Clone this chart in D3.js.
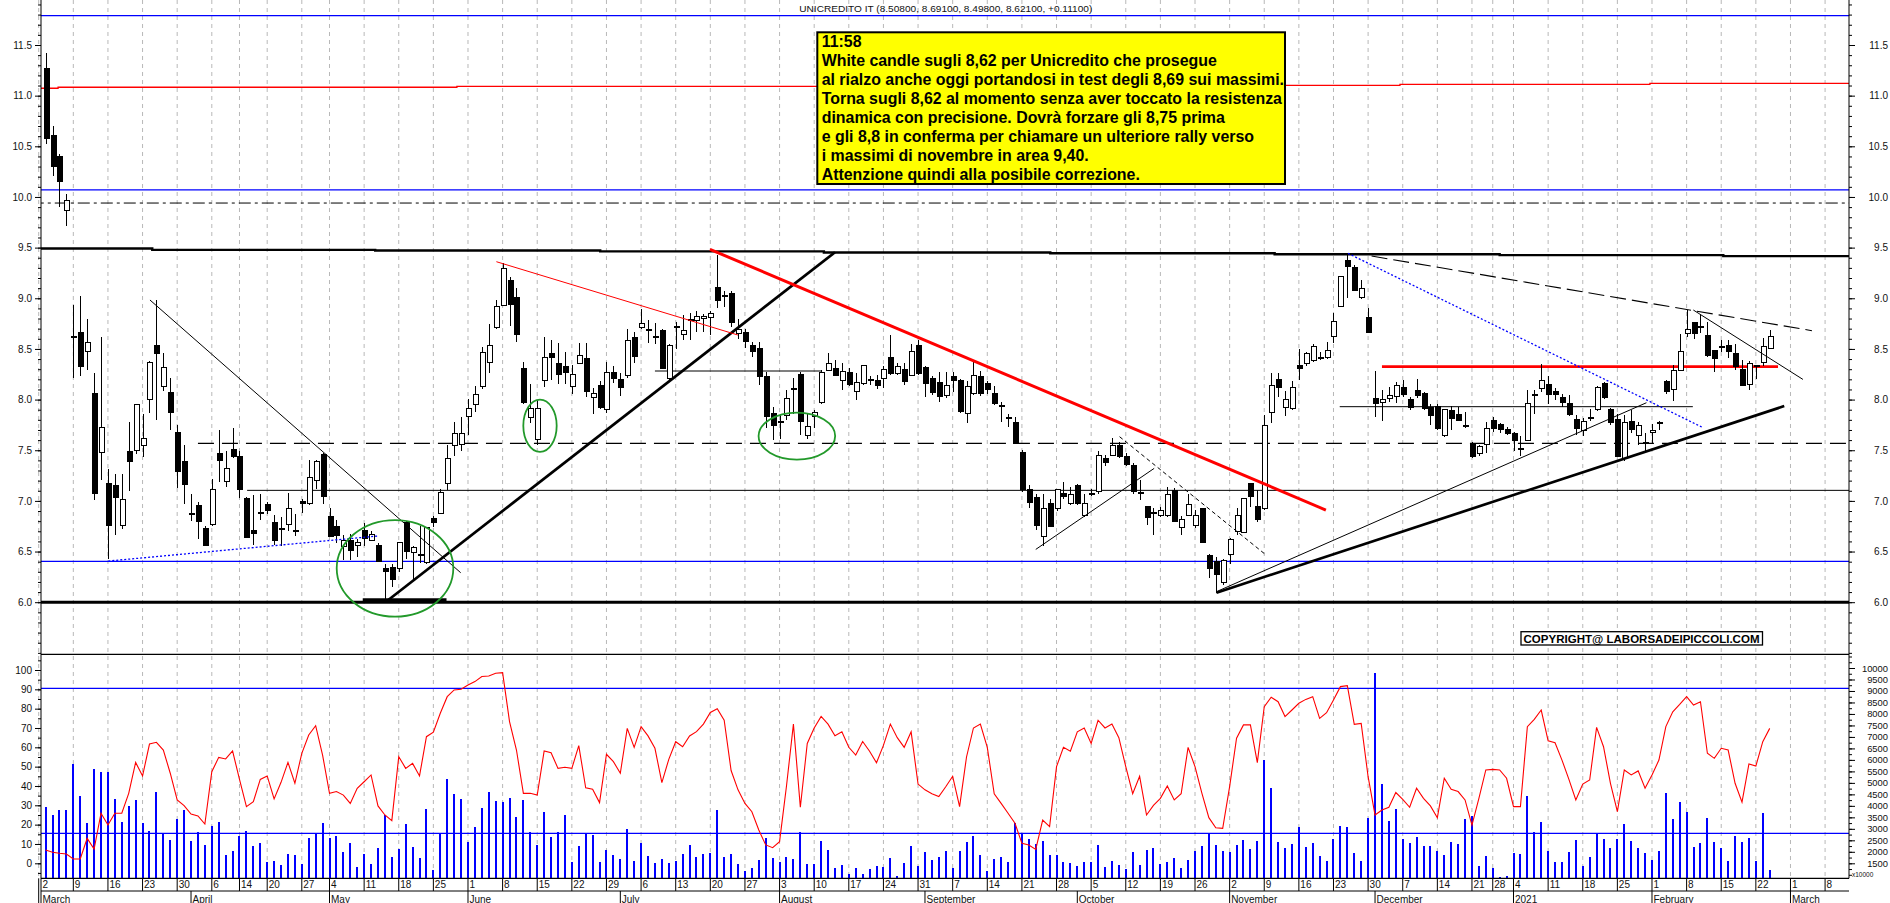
<!DOCTYPE html>
<html>
<head>
<meta charset="utf-8">
<script src="https://cdn.jsdelivr.net/npm/d3@7"></script>
<style>
  body { margin: 0; background: #fff; }
  svg { display: block; }
</style>
</head>
<body>
<svg id="chart"></svg>
<script>
// trading day index 0 = 2 March 2020, last bar = 24 Feb 2021
const firstDay = 1;

// [open, high, low, close]
const ohlc = [
  [11.27,11.42,10.52,10.58],[10.61,10.70,10.21,10.30],[10.40,10.42,9.90,10.15],[9.87,10.03,9.71,9.97],
  [8.62,8.93,8.21,8.61],[8.66,9.02,8.23,8.33],[8.47,8.80,8.29,8.56],[8.06,8.26,7.01,7.07],[7.48,8.62,7.21,7.72],
  [7.17,7.31,6.43,6.76],[7.15,7.27,6.66,7.03],[6.76,7.27,6.72,7.01],[7.49,7.78,7.10,7.39],[7.50,7.96,7.46,7.95],
  [7.55,7.86,7.43,7.62],[8.00,8.38,7.87,8.37],[8.53,8.98,7.80,8.45],[8.13,8.46,8.08,8.32],[8.07,8.21,7.70,7.87],
  [7.68,7.75,7.13,7.29],[7.39,7.55,6.97,7.16],[6.88,7.07,6.80,6.87],[6.95,6.99,6.62,6.80],[6.73,6.75,6.55,6.56],
  [6.77,7.22,6.75,7.11],[7.47,7.70,7.19,7.40],[7.19,7.49,7.14,7.32],[7.51,7.72,7.42,7.44],
  [7.44,7.49,7.03,7.11],[7.02,7.04,6.63,6.64],[6.71,7.06,6.56,6.68],[6.88,7.07,6.81,6.89],
  [6.96,6.99,6.87,6.91],[6.79,6.86,6.56,6.61],[6.73,6.84,6.55,6.72],[6.77,7.08,6.70,6.92],[6.71,6.87,6.65,6.70],
  [6.99,7.02,6.88,6.97],[6.97,7.40,6.96,7.23],[7.20,7.40,7.12,7.39],[7.46,7.47,6.97,7.04],
  [6.85,6.93,6.64,6.65],[6.75,6.81,6.58,6.66],[6.55,6.66,6.42,6.61],[6.61,6.67,6.42,6.51],[6.56,6.62,6.45,6.59],
  [6.71,6.78,6.55,6.63],[6.61,6.70,6.60,6.67],[6.56,6.58,6.40,6.40],[6.33,6.38,5.99,6.30],[6.34,6.38,6.15,6.22],
  [6.33,6.59,6.30,6.59],[6.79,6.80,6.43,6.50],[6.49,6.55,6.22,6.54],[6.47,6.75,6.39,6.46],[6.39,6.74,6.38,6.74],
  [6.83,6.85,6.74,6.79],[6.88,7.12,6.87,7.08],[7.17,7.55,7.11,7.42],[7.55,7.78,7.44,7.67],[7.56,7.83,7.49,7.67],
  [7.83,8.01,7.65,7.91],[7.95,8.13,7.88,8.05],[8.13,8.52,8.10,8.46],[8.37,8.75,8.26,8.53],[8.71,8.98,8.70,8.92],
  [8.93,9.35,8.92,9.29],[9.18,9.21,8.73,8.94],[9.01,9.10,8.57,8.64],[8.31,8.37,7.96,7.97],[7.82,8.15,7.77,7.91],
  [7.61,8.00,7.55,7.91],[8.19,8.62,8.12,8.42],[8.45,8.59,8.19,8.42],[8.36,8.56,8.15,8.25],[8.33,8.47,8.15,8.27],
  [8.13,8.34,8.06,8.25],[8.36,8.56,8.35,8.44],[8.41,8.56,8.03,8.08],[8.02,8.11,7.86,8.06],[8.14,8.18,7.91,7.92],
  [7.90,8.37,7.87,8.27],[8.27,8.33,8.16,8.21],[8.20,8.26,8.04,8.12],[8.24,8.70,8.21,8.58],[8.61,8.67,8.36,8.43],
  [8.71,8.89,8.70,8.75],[8.68,8.79,8.56,8.69],[8.62,8.76,8.55,8.61],[8.68,8.70,8.30,8.31],[8.21,8.55,8.19,8.53],
  [8.72,8.77,8.50,8.72],[8.64,8.83,8.59,8.68],[8.79,8.85,8.59,8.78],[8.78,8.87,8.67,8.82],[8.80,8.84,8.67,8.82],
  [8.81,8.87,8.64,8.85],[9.11,9.43,8.90,8.98],[9.02,9.07,8.91,9.03],[9.05,9.07,8.72,8.76],[8.65,8.80,8.60,8.69],
  [8.66,8.70,8.51,8.57],[8.53,8.57,8.42,8.47],[8.50,8.57,8.14,8.23],[8.23,8.27,7.72,7.83],[7.86,7.93,7.60,7.74],
  [7.77,7.86,7.61,7.78],[7.84,8.09,7.80,8.01],[8.10,8.21,7.86,8.11],[8.25,8.27,7.65,7.78],[7.65,7.86,7.61,7.73],
  [7.83,7.90,7.72,7.87],[7.97,8.29,7.96,8.27],[8.29,8.46,8.28,8.36],[8.31,8.39,8.23,8.24],[8.19,8.36,8.09,8.28],
  [8.27,8.31,8.13,8.15],[8.08,8.26,8.00,8.17],[8.16,8.34,8.14,8.34],[8.20,8.23,8.14,8.20],[8.19,8.24,8.10,8.14],
  [8.21,8.33,8.11,8.30],[8.42,8.64,8.24,8.26],[8.26,8.36,8.24,8.33],[8.30,8.36,8.14,8.18],[8.24,8.55,8.23,8.47],
  [8.53,8.59,8.24,8.26],[8.32,8.33,8.03,8.16],[8.21,8.23,8.05,8.07],[8.17,8.27,7.98,8.03],[8.04,8.27,8.02,8.14],
  [8.23,8.27,8.07,8.19],[8.19,8.20,7.87,7.88],[7.86,8.18,7.77,8.13],[8.06,8.37,8.05,8.24],[8.23,8.28,8.04,8.06],
  [8.16,8.18,8.06,8.10],[8.06,8.13,7.95,7.96],[7.94,7.98,7.78,7.94],[7.82,7.86,7.73,7.81],[7.77,7.83,7.56,7.57],
  [7.48,7.50,7.09,7.11],[7.11,7.16,6.93,6.98],[7.03,7.07,6.71,6.76],[6.65,7.07,6.55,6.92],[6.97,7.02,6.74,6.75],
  [6.92,7.12,6.90,7.11],[7.07,7.19,7.02,7.04],[6.97,7.14,6.96,7.06],[7.15,7.17,6.96,6.97],[6.86,7.07,6.84,6.97],
  [7.07,7.12,7.05,7.07],[7.09,7.49,7.07,7.45],[7.42,7.45,7.34,7.38],[7.45,7.62,7.44,7.55],[7.55,7.58,7.42,7.44],
  [7.44,7.47,7.34,7.36],[7.35,7.37,7.07,7.09],[7.08,7.21,7.01,7.08],[6.94,6.95,6.76,6.84],[6.89,6.93,6.66,6.89],
  [6.86,6.94,6.84,6.91],[6.86,7.14,6.84,7.06],[7.10,7.13,6.79,6.80],[6.74,6.85,6.66,6.82],[6.86,7.07,6.85,6.96],
  [6.76,6.91,6.73,6.86],[6.92,6.93,6.58,6.59],[6.46,6.48,6.24,6.33],[6.40,6.45,6.09,6.27],[6.19,6.43,6.17,6.41],
  [6.47,6.63,6.38,6.62],[6.70,6.93,6.66,6.86],[6.69,7.02,6.68,7.02],[7.17,7.18,6.94,7.04],[6.94,7.11,6.79,6.82],
  [6.92,7.85,6.91,7.74],[7.87,8.26,7.77,8.14],[8.20,8.26,8.03,8.12],[7.92,8.08,7.84,8.00],[7.91,8.18,7.90,8.12],
  [8.34,8.50,8.19,8.31],[8.36,8.47,8.33,8.45],[8.39,8.55,8.37,8.52],[8.42,8.47,8.39,8.42],[8.42,8.57,8.40,8.48],
  [8.62,8.85,8.56,8.77],[8.92,9.22,8.91,9.21],[9.37,9.44,9.00,9.31],[9.30,9.33,9.07,9.08],[9.01,9.18,8.99,9.10],
  [8.81,8.90,8.66,8.66],[8.01,8.28,7.83,7.96],[7.97,8.09,7.79,8.00],[8.01,8.12,7.98,8.04],[8.03,8.17,7.97,8.14],
  [8.12,8.19,8.03,8.05],[8.00,8.03,7.90,7.92],[8.09,8.20,8.02,8.04],[8.06,8.07,7.90,7.91],[7.92,7.96,7.75,7.84],
  [7.93,7.96,7.70,7.71],[7.65,7.91,7.63,7.90],[7.89,7.94,7.70,7.81],[7.85,7.93,7.79,7.79],[7.74,7.88,7.72,7.74],
  [7.57,7.58,7.42,7.44],[7.47,7.55,7.44,7.54],[7.56,7.78,7.47,7.71],
  [7.79,7.83,7.68,7.71],[7.75,7.77,7.67,7.70],[7.70,7.73,7.65,7.67],
  [7.67,7.68,7.49,7.60],[7.52,7.64,7.44,7.52],[7.60,8.09,7.59,7.96],[8.04,8.09,7.86,8.05],[8.11,8.35,8.07,8.19],
  [8.15,8.23,7.96,8.05],[8.08,8.11,8.00,8.05],[8.02,8.06,7.93,7.97],[7.96,8.05,7.84,7.85],[7.80,7.85,7.65,7.71],
  [7.69,7.82,7.64,7.78],[7.81,7.91,7.79,7.82],[7.90,8.13,7.89,8.12],[8.16,8.17,8.01,8.02],[7.90,7.92,7.75,7.77],
  [7.80,7.86,7.43,7.44],[7.42,7.85,7.39,7.77],[7.78,7.90,7.67,7.70],[7.65,7.78,7.55,7.74],[7.57,7.67,7.49,7.58],
  [7.68,7.76,7.57,7.69],[7.76,7.79,7.70,7.77],[8.18,8.19,8.06,8.08],[8.10,8.34,7.99,8.29],[8.29,8.65,8.28,8.47],
  [8.65,8.88,8.62,8.69],[8.76,8.77,8.60,8.65],[8.72,8.83,8.66,8.72],[8.63,8.77,8.42,8.44],[8.48,8.49,8.27,8.41],
  [8.52,8.59,8.47,8.51],[8.53,8.59,8.41,8.47],[8.45,8.55,8.29,8.33],[8.30,8.39,8.13,8.14],[8.15,8.38,8.09,8.36],
  [8.33,8.34,8.20,8.34],[8.37,8.61,8.33,8.52],[8.508,8.691,8.498,8.621]
];

// volume, units of 10000 shares
const volume = [
  3936,3603,3820,3820,5807,4429,3240,5589,5459,5473,4284,3313,3994,4255,3240,2907,4589,2762,2515,3429,
  3820,2486,2849,2298,3124,3313,1863,2037,2704,2907,2269,2370,1573,1602,1428,1892,1863,1471,2617,2762,
  3269,2588,2689,1979,2370,1326,1906,1457,2182,3603,1761,2109,3211,2196,1718,3849,1210,2805,5169,4516,
  4299,2443,3095,3893,4618,4212,4183,4328,3530,4255,2849,2298,3719,2631,2849,3603,1573,2269,2805,2733,
  1573,2080,1863,1674,2993,1616,2370,1819,1529,1688,1529,1616,1906,2297,1761,1906,1964,3820,1761,1906,
  1456,1166,1282,1645,2587,1746,1558,1790,1674,2848,1456,1471,2471,2080,1282,1427,1036,1282,1021,1239,
  1384,1355,1717,949,1500,2254,1384,1993,1645,1790,2051,1282,2036,2428,2689,1862,1166,1688,1790,1558,
  3240,2805,2544,2341,2471,1862,1862,1558,1500,1384,1543,1543,2297,1326,1601,1427,1253,1978,1427,2080,
  2152,1471,1572,1717,1311,1645,2036,2240,2805,2290,2045,2008,2298,2500,2124,2486,5995,4763,2414,2182,
  2320,3066,2196,2370,1819,1602,2544,3138,3095,1935,1602,3457,9765,4937,3342,3864,2544,2370,2631,2254,
  2269,2051,1863,2414,2341,3414,3559,1384,1819,1312,891,949,1964,1906,4429,2849,3284,2037,1573,1573,
  1979,2515,1384,1761,2805,2544,2153,2544,3197,2472,2153,1964,1645,2037,4545,3429,4183,3719,2225,2370,
  3457,2414,2153,1616,2689,2443,2588,1602,3675,1210
];

// oscillator 0-100
const osc = [
  6.9,5.7,5.2,4.8,2.2,2.2,12.9,7.4,25.9,19.8,25.9,25.9,36.2,52.2,45.2,61.7,62.6,58.6,46.6,32.8,
  29.8,25.5,24.5,20.3,47.4,54.8,54.0,58.1,43.4,29.3,31.9,43.4,45.2,33.3,41.9,52.2,41.4,56.9,66.4,71.2,
  56.0,36.2,37.1,35.3,31.0,38.8,42.2,45.7,29.7,25.0,22.1,55.2,49.1,51.7,45.2,65.5,67.8,77.6,86.2,89.7,
  90.0,92.2,94.0,96.6,96.9,98.3,98.6,73.3,58.6,36.2,36.2,35.3,58.1,57.2,49.1,49.7,49.1,60.9,39.1,38.3,
  31.4,56.4,52.6,46.6,69.8,60.0,70.7,65.9,59.5,41.7,53.8,62.9,60.3,65.9,68.1,72,78,80,74,48,
  38,31,26.7,17.2,9.5,8.1,11.2,40,72,29,62,70,76,72,66,68,60,56,63,58,
  52,61,72,65,60,68,41,38,36,34.5,39.6,45,29.3,55,70,72,60,36,31,25.9,
  20.7,10.3,9.5,7.2,22.4,19,50,60,58,68,70,62,74,70,72,65,50,36,45,25,
  30,33.6,40,32.8,36,60,50,36.2,23.6,18.4,18.1,39.7,64.7,71.6,71.6,52.1,81,85.9,83.6,75.9,
  79.3,82.8,84.8,86.2,75,77.9,84.5,91.4,91.9,71.9,72.4,44.8,25,27.6,29,36.6,33.1,29,38.8,33.6,
  29.7,23.6,44,38.3,37.1,32.8,19.8,33.6,48.3,48.6,48.3,44,29.3,29.3,70.7,74.5,79.3,63.4,62.4,53.4,
  43.4,32.8,41,43.1,70.3,60.3,41.4,26.7,48.3,45.7,47.8,38.8,45.7,53.4,70.7,78.4,82.2,86.2,81.9,83.6,
  56.9,54.3,59.5,58.6,41.4,31.6,51.4,50.3,62.9,69.8
];

const weekTicks = [0,5,10,15,20,25,29,33,38,42,47,52,57,62,67,72,77,82,87,92,97,102,107,112,117,122,127,
  132,137,142,147,152,157,162,167,172,177,182,187,192,197,202,207,210,213,218,223,228,233,238,243,248,253,258];
const weekLabels = ["2","9","16","23","30","6","14","20","27","4","11","18","25","1","8","15","22","29","6",
  "13","20","27","3","10","17","24","31","7","14","21","28","5","12","19","26","2","9","16","23","30","7",
  "14","21","28","4","11","18","25","1","8","15","22","1","8"];
const monthTicks = [0,22,42,62,84,107,128,150,172,193,213,233,253];
const monthLabels = ["March","April","May","June","July","August","September","October","November",
  "December","2021","February","March"];

const priceTicks = d3.range(6, 11.51, 0.5);
const oscTicks = d3.range(0, 101, 10);
const volTicks = d3.range(1500, 10001, 500);

// study lines: [day, price]
const levelBlue = [11.79, 10.07, 6.403];
const levelDashDot = 9.94;
const levelLongDash = [23, 7.568];
const levelThin = [[30.1, 262, 7.104], [89, 113.1, 8.282], [187.9, 238.9, 7.93]];
const levelBase = 6.0;
const levelRed = [194, 251.2, 8.325];
const redStep = [[-1,11.073],[2.8,11.073],[2.8,11.083],[60.4,11.083],[60.4,11.092],[138.8,11.092],
  [138.8,11.102],[196.6,11.102],[196.6,11.112],[232.7,11.112],[232.7,11.122],[262,11.122]];
const blackStep = [[-1,9.492],[16.4,9.492],[16.4,9.478],[48.6,9.478],[48.6,9.472],[81.1,9.472],[81.1,9.463],
  [113.4,9.463],[113.4,9.452],[146.1,9.452],[146.1,9.444],[178.5,9.444],[178.5,9.435],[211,9.435],
  [211,9.426],[243.3,9.426],[243.3,9.416],[262,9.416]];
const trendThin = [[16.07,8.983,60.95,6.291],[144.0,6.521,161.1,7.321],[170.1,6.104,232.2,7.969],
  [238.97,8.884,254.8,8.199]];
const trendThick = [[50.16,6.005,115.0,9.454],[46.8,6.025,58.9,6.025],[170.1,6.094,252.1,7.936]];
const trendBlueDots = [[10.05,6.406,48.9,6.653],[189.1,9.443,240.4,7.722]];
const trendRedThin = [[66.1,9.361,101.0,8.637]];
const trendRedThick = [[96.95,9.483,185.9,6.910]];
const trendDashed = [[156.1,7.634,177.1,6.475]];
const trendLongDash = [[192.5,9.417,256.1,8.680]];
const circles = [[51.46,6.334,8.42,0.477],[72.4,7.742,2.41,0.258],[109.5,7.640,5.53,0.232]];

const titleText = "UNICREDITO IT (8.50800, 8.69100, 8.49800, 8.62100, +0.11100)";
const noteLines = [
  "11:58",
  "White candle sugli 8,62 per Unicredito che prosegue",
  "al rialzo anche oggi portandosi in test degli 8,69 sui massimi.",
  "Torna sugli 8,62 al momento senza aver toccato la resistenza",
  "dinamica con precisione. Dovrà forzare gli 8,75 prima",
  "e gli 8,8 in conferma per chiamare un ulteriore rally verso",
  "i massimi di novembre in area 9,40.",
  "Attenzione quindi alla posibile correzione."
];
const copyText = "COPYRIGHT@ LABORSADEIPICCOLI.COM";

// layout
const W = 1890, H = 903;
const plotL = 41, plotR = 1849;
const splitY = 654.3, axisY = 878.3;
const font = "'Liberation Sans', Arial, sans-serif";

const svg = d3.select("#chart").attr("width", W).attr("height", H)
  .style("font-family", font);

const x = d3.scaleLinear().domain([0, 258]).range([38.7, 38.7 + 258 * 6.924]);
const yP = d3.scaleLinear().domain([6, 11.5]).range([602.2, 45]);
const yO = d3.scaleLinear().domain([0, 100]).range([863.3, 670]);
const yV = d3.scaleLinear().domain([1500, 10000]).range([863.3, 668]);

const defs = svg.append("defs");
defs.append("clipPath").attr("id", "clipTop").append("rect")
  .attr("x", plotL).attr("y", 0).attr("width", plotR - plotL).attr("height", splitY);
defs.append("clipPath").attr("id", "clipBot").append("rect")
  .attr("x", plotL).attr("y", splitY).attr("width", plotR - plotL).attr("height", axisY - splitY);

// vertical grid
svg.append("g").selectAll("line").data(weekTicks).join("line")
  .attr("x1", d => x(d)).attr("x2", d => x(d))
  .attr("y1", 0).attr("y2", axisY)
  .attr("stroke", "#b8b8b8").attr("stroke-dasharray", "4,4");

const topG = svg.append("g").attr("clip-path", "url(#clipTop)");
const botG = svg.append("g").attr("clip-path", "url(#clipBot)");

const seg = (g, data, stroke, sw, dash) => g.append("g").selectAll("line").data(data).join("line")
  .attr("x1", d => x(d[0])).attr("y1", d => yP(d[1]))
  .attr("x2", d => x(d[2])).attr("y2", d => yP(d[3]))
  .attr("stroke", stroke).attr("stroke-width", sw).attr("stroke-dasharray", dash || null);

const priceLine = d3.line().x(d => x(d[0])).y(d => yP(d[1]));

// horizontal levels
seg(topG, levelBlue.map(p => [-1, p, 262, p]), "#0000ff", 1.2);
seg(topG, [[-1, levelDashDot, 262, levelDashDot]], "#000", 1, "12,4,3,4");
seg(topG, [[levelLongDash[0], levelLongDash[1], 262, levelLongDash[1]]], "#000", 1.2, "16,8");
seg(topG, levelThin.map(d => [d[0], d[2], d[1], d[2]]), "#000", 1);
seg(topG, [[-1, levelBase, 262, levelBase]], "#000", 3);
seg(topG, [[levelRed[0], levelRed[2], levelRed[1], levelRed[2]]], "#ff0000", 2.6);
topG.append("path").attr("d", priceLine(redStep)).attr("fill", "none").attr("stroke", "#ff0000").attr("stroke-width", 1.3);
topG.append("path").attr("d", priceLine(blackStep)).attr("fill", "none").attr("stroke", "#000").attr("stroke-width", 2.4);

// candles
const bars = ohlc.map((d, k) => ({ i: firstDay + k, o: d[0], h: d[1], l: d[2], c: d[3] }));
const cg = topG.append("g").attr("shape-rendering", "crispEdges");
cg.selectAll("line").data(bars).join("line")
  .attr("x1", d => Math.round(x(d.i)) + 0.5).attr("x2", d => Math.round(x(d.i)) + 0.5)
  .attr("y1", d => yP(d.h)).attr("y2", d => yP(d.l))
  .attr("stroke", "#000");
cg.selectAll("rect").data(bars).join("rect")
  .attr("x", d => Math.round(x(d.i)) - 2)
  .attr("y", d => yP(Math.max(d.o, d.c)))
  .attr("width", 5)
  .attr("height", d => Math.max(1, yP(Math.min(d.o, d.c)) - yP(Math.max(d.o, d.c))))
  .attr("fill", d => d.c >= d.o ? "#fff" : "#000")
  .attr("stroke", "#000");

// trend lines
seg(topG, trendThin, "#000", 1);
seg(topG, trendThick, "#000", 2.7);
seg(topG, trendBlueDots, "#0000ff", 1.3, "2,2");
seg(topG, trendRedThin, "#ff0000", 1);
seg(topG, trendRedThick, "#ff0000", 3);
seg(topG, trendDashed, "#000", 1, "4,3");
seg(topG, trendLongDash, "#000", 1.1, "16,6");
topG.append("g").selectAll("ellipse").data(circles).join("ellipse")
  .attr("cx", d => x(d[0])).attr("cy", d => yP(d[1]))
  .attr("rx", d => x(d[0] + d[2]) - x(d[0])).attr("ry", d => yP(d[1] - d[3]) - yP(d[1]))
  .attr("fill", "none").attr("stroke", "#22992a").attr("stroke-width", 1.8);

// lower panel
botG.append("g").selectAll("line").data([90.5, 15.5]).join("line")
  .attr("x1", plotL).attr("x2", plotR).attr("y1", d => yO(d)).attr("y2", d => yO(d))
  .attr("stroke", "#0000ff").attr("stroke-width", 1.2);
botG.append("g").attr("shape-rendering", "crispEdges").selectAll("rect").data(volume).join("rect")
  .attr("x", (d, k) => Math.round(x(firstDay + k)) - 1)
  .attr("y", d => yV(d)).attr("width", 2)
  .attr("height", d => axisY - yV(d))
  .attr("fill", "#0000ff");
botG.append("path")
  .attr("d", d3.line().x((d, k) => x(firstDay + k)).y(d => yO(d))(osc))
  .attr("fill", "none").attr("stroke", "#ff0000").attr("stroke-width", 1.1);

// frame
svg.append("line").attr("x1", plotL).attr("x2", plotR).attr("y1", splitY).attr("y2", splitY)
  .attr("stroke", "#000").attr("stroke-width", 1.3);
svg.append("line").attr("x1", plotL).attr("x2", plotR).attr("y1", axisY).attr("y2", axisY)
  .attr("stroke", "#000").attr("stroke-width", 1.3);
svg.append("line").attr("x1", plotL).attr("x2", plotR).attr("y1", 891).attr("y2", 891)
  .attr("stroke", "#000");
svg.append("line").attr("x1", plotL).attr("x2", plotL).attr("y1", 0).attr("y2", H).attr("stroke", "#000");
svg.append("line").attr("x1", plotR).attr("x2", plotR).attr("y1", 0).attr("y2", axisY).attr("stroke", "#000");

// axes
const styleAxis = (size) => g => {
  g.select(".domain").remove();
  g.selectAll("text").attr("font-size", size).attr("font-family", font).attr("fill", "#111");
};
const minorP = d3.range(5.5, 11.95, 0.1).filter(p => yP(p) > 1 && yP(p) < splitY - 1);
svg.append("g").attr("transform", `translate(${plotL},0)`)
  .call(d3.axisLeft(yP).tickValues(minorP).tickSize(3).tickFormat("")).call(styleAxis(10));
svg.append("g").attr("transform", `translate(${plotL},0)`)
  .call(d3.axisLeft(yP).tickValues(priceTicks).tickSize(6).tickPadding(3).tickFormat(d3.format(".1f")))
  .call(styleAxis(10));
svg.append("g").attr("transform", `translate(${plotR},0)`)
  .call(d3.axisRight(yP).tickValues(minorP).tickSize(3).tickFormat("")).call(styleAxis(10));
svg.append("g").attr("transform", `translate(${plotR},0)`)
  .call(d3.axisRight(yP).tickValues(priceTicks).tickSize(6).tickFormat(d3.format(".1f")))
  .call(styleAxis(10))
  .call(g => g.selectAll("text").attr("text-anchor", "end").attr("x", 39));

const minorO = d3.range(-5, 106, 5);
svg.append("g").attr("transform", `translate(${plotL},0)`)
  .call(d3.axisLeft(yO).tickValues(minorO).tickSize(3).tickFormat("")).call(styleAxis(10));
svg.append("g").attr("transform", `translate(${plotL},0)`)
  .call(d3.axisLeft(yO).tickValues(oscTicks).tickSize(6).tickPadding(3)).call(styleAxis(10));
const minorV = d3.range(1000, 10600, 250).filter(v => yV(v) > splitY + 2 && yV(v) < axisY - 1);
svg.append("g").attr("transform", `translate(${plotR},0)`)
  .call(d3.axisRight(yV).tickValues(minorV).tickSize(3).tickFormat("")).call(styleAxis(9.4));
svg.append("g").attr("transform", `translate(${plotR},0)`)
  .call(d3.axisRight(yV).tickValues(volTicks).tickSize(6).tickFormat(d3.format("d")))
  .call(styleAxis(9.4))
  .call(g => g.selectAll("text").attr("text-anchor", "end").attr("x", 39));
svg.append("text").attr("x", plotR + 3).attr("y", 877).attr("font-size", 6.5).attr("fill", "#111")
  .text("x10000");

// date axis
const dg = svg.append("g");
dg.selectAll("line").data(weekTicks).join("line")
  .attr("x1", d => x(d)).attr("x2", d => x(d)).attr("y1", axisY).attr("y2", 891).attr("stroke", "#000");
dg.selectAll("text").data(weekTicks).join("text")
  .attr("x", d => Math.max(plotL, x(d)) + 1.5).attr("y", 888.4)
  .attr("font-size", 10).attr("fill", "#111")
  .text((d, k) => weekLabels[k]);
const mg = svg.append("g");
mg.selectAll("line").data(monthTicks).join("line")
  .attr("x1", d => x(d)).attr("x2", d => x(d)).attr("y1", 891).attr("y2", H).attr("stroke", "#000");
mg.selectAll("text").data(monthTicks).join("text")
  .attr("x", d => Math.max(plotL, x(d)) + 1.5).attr("y", 902.5)
  .attr("font-size", 10).attr("fill", "#111")
  .text((d, k) => monthLabels[k]);

// title
svg.append("text").attr("x", 799.3).attr("y", 11.6).attr("font-size", 9.5).attr("fill", "#111")
  .attr("textLength", 293).attr("lengthAdjust", "spacingAndGlyphs").text(titleText);

// note box
const note = svg.append("g");
note.append("rect").attr("x", 817.3).attr("y", 32.3).attr("width", 467.7).attr("height", 151.7)
  .attr("fill", "#ffff00").attr("stroke", "#000").attr("stroke-width", 2);
const probe = note.append("text").attr("font-size", 16).attr("font-weight", "bold").text(noteLines[3]);
const noteSize = 16 * 460.7 / probe.node().getComputedTextLength();
probe.remove();
note.selectAll("text.l").data(noteLines).join("text").attr("class", "l")
  .attr("x", 821.7).attr("y", (d, k) => 46.7 + k * 19.1)
  .attr("font-size", noteSize).attr("font-weight", "bold").attr("fill", "#000")
  .text(d => d);

// copyright
svg.append("rect").attr("x", 1521).attr("y", 631.7).attr("width", 241.5).attr("height", 13.3)
  .attr("fill", "#fff").attr("stroke", "#000").attr("stroke-width", 1.3);
svg.append("text").attr("x", 1523.5).attr("y", 642.8).attr("font-size", 11.5).attr("font-weight", "bold")
  .attr("textLength", 236).attr("lengthAdjust", "spacingAndGlyphs").text(copyText);
</script>
</body>
</html>
